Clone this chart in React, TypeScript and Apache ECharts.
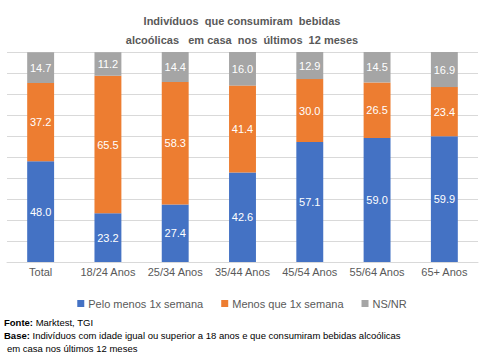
import React, { useEffect, useRef } from "react";
import * as echarts from "echarts";

const categories = ["Total", "18/24 Anos", "25/34 Anos", "35/44 Anos", "45/54 Anos", "55/64 Anos", "65+ Anos"];
const peloMenos = [48.0, 23.2, 27.4, 42.6, 57.1, 59.0, 59.9];
const menosQue = [37.2, 65.5, 58.3, 41.4, 30.0, 26.5, 23.4];
const nsnr = [14.7, 11.2, 14.4, 16.0, 12.9, 14.5, 16.9];
const seriesNames = ["Pelo menos 1x semana", "Menos que 1x semana", "NS/NR"];
const colors = ["#4472C4", "#ED7D31", "#A5A5A5"];

export default function App() {
  const ref = useRef<HTMLDivElement>(null);
  useEffect(() => {
    if (!ref.current) return;
    const chart = echarts.init(ref.current, null, { renderer: "svg" });
    const font = "Liberation Sans, Arial, sans-serif";
    const mk = (name: string, data: number[], color: string) => ({
      name,
      type: "bar",
      stack: "s",
      data,
      barWidth: "40%",
      itemStyle: { color },
      label: {
        show: true,
        position: "inside",
        color: "#ffffff",
        fontSize: 11,
        fontFamily: font,
        formatter: (p: any) => Number(p.value).toFixed(1),
      },
    });
    chart.setOption({
      animation: false,
      backgroundColor: "#ffffff",
      textStyle: { fontFamily: font },
      title: {
        text: "Indivíduos  que consumiram  bebidas\nalcoólicas   em casa  nos  últimos  12 meses",
        left: "center",
        top: 6,
        textStyle: { color: "#595959", fontSize: 11, fontWeight: "bold", lineHeight: 19, fontFamily: font },
      },
      legend: {
        top: 293,
        left: "center",
        itemWidth: 7,
        itemHeight: 7,
        itemGap: 18,
        icon: "rect",
        textStyle: { color: "#595959", fontSize: 11, fontFamily: font, padding: [0, 0, 0, -1] },
        data: seriesNames,
      },
      grid: { left: 7, right: 6, top: 52, bottom: 96, containLabel: false },
      xAxis: {
        type: "category",
        data: categories,
        axisLine: { lineStyle: { color: "#D9D9D9" } },
        axisTick: { show: false },
        axisLabel: { color: "#595959", fontSize: 11, margin: 4, interval: 0, fontFamily: font },
      },
      yAxis: {
        type: "value",
        min: 0,
        max: 100,
        interval: 10,
        axisLabel: { show: false },
        axisLine: { show: false },
        axisTick: { show: false },
        splitLine: { lineStyle: { color: "#D9D9D9" } },
      },
      series: [
        mk(seriesNames[0], peloMenos, colors[0]),
        mk(seriesNames[1], menosQue, colors[1]),
        mk(seriesNames[2], nsnr, colors[2]),
      ],
      graphic: [
        {
          type: "text",
          left: 4,
          top: 317,
          style: {
            text: "{b|Fonte:} Marktest, TGI",
            rich: { b: { fontWeight: "bold", fontSize: 9.5, fill: "#000" } },
            fontSize: 9.5,
            fill: "#000",
            fontFamily: font,
          },
        },
        {
          type: "text",
          left: 4,
          top: 330,
          style: {
            text: "{b|Base:} Indivíduos com idade igual ou superior a 18 anos e que consumiram bebidas alcoólicas",
            rich: { b: { fontWeight: "bold", fontSize: 9.5, fill: "#000" } },
            fontSize: 9.5,
            fill: "#000",
            fontFamily: font,
          },
        },
        {
          type: "text",
          left: 7,
          top: 343,
          style: { text: "em casa nos últimos 12 meses", fontSize: 9.5, fill: "#000", fontFamily: font },
        },
      ],
    });
    return () => chart.dispose();
  }, []);
  return <div ref={ref} style={{ position: "fixed", left: 0, top: 0, width: 484, height: 358 }} />;
}
